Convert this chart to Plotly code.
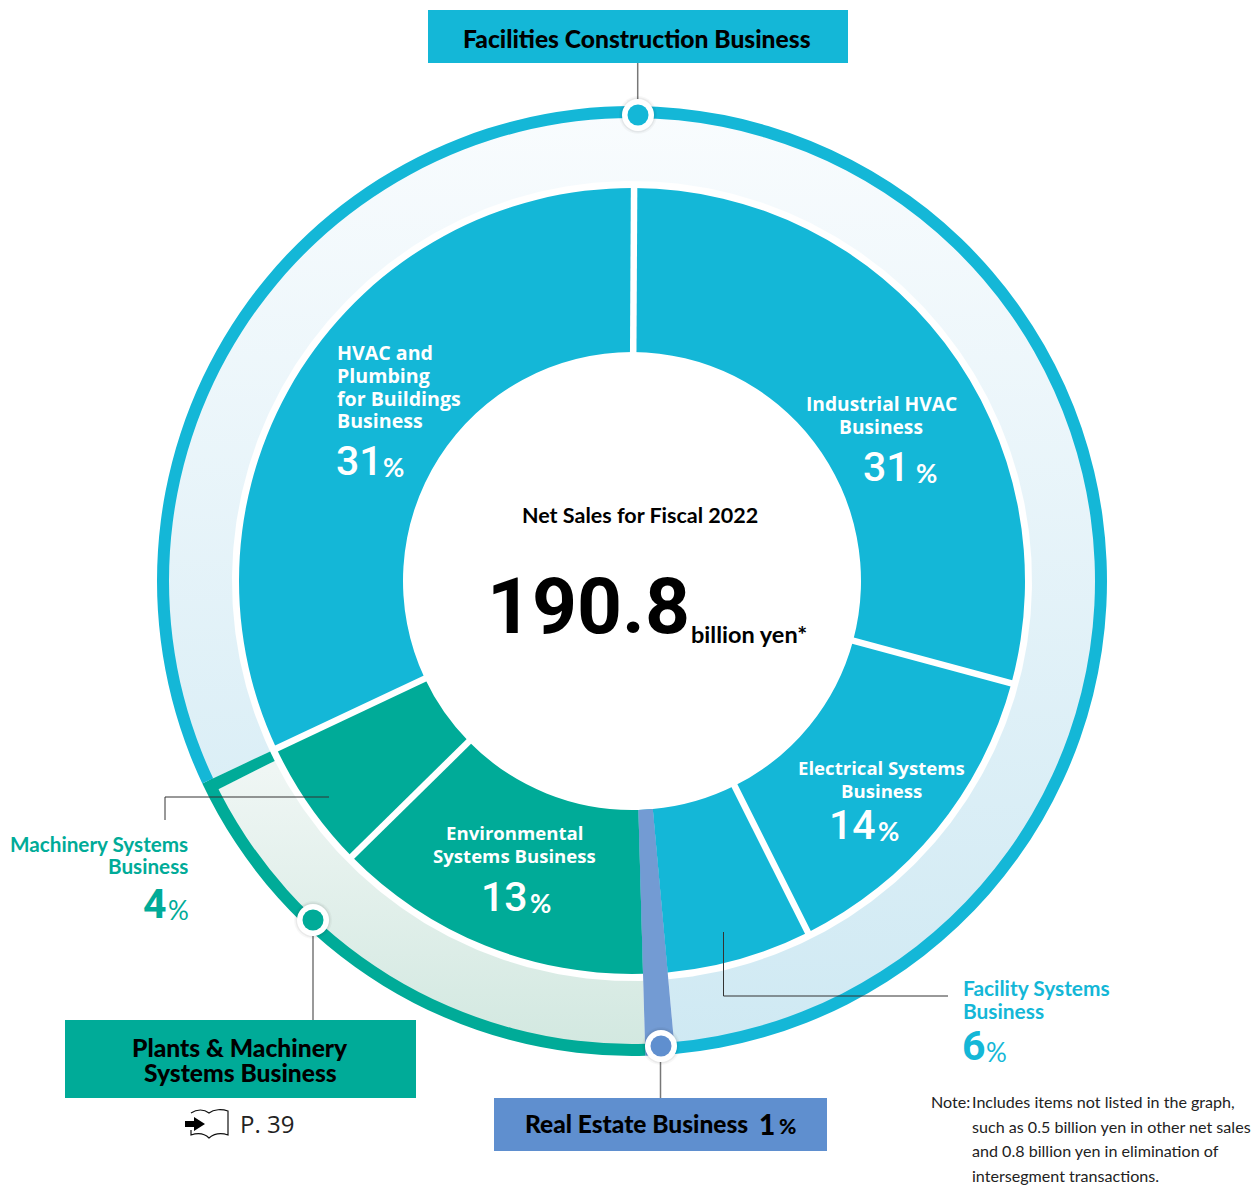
import numpy as np
import plotly.graph_objects as go

W, H = 1253, 1186
CX, CY = 632, 581

# ---- data ----
segments = ["Industrial HVAC", "Electrical Systems", "Facility Systems", "Real Estate",
            "Environmental Systems", "Machinery Systems", "HVAC and Plumbing for Buildings"]
drawn_shares = [29.11, 13.42, 5.94, 1.0, 13.08, 5.36, 32.09]
labelled_pct = ["31", "14", "6", "1", "13", "4", "31"]
start_angle = 0.3

BLUE, GREEN, STRIP, MARK = "#14b7d7", "#00ab98", "#739bd3", "#5f8fcf"
SANS = "Lato"
OPEN = "Open Sans"
NUM = "Roboto"

cum = start_angle + np.cumsum([0] + drawn_shares) * 3.6  # boundaries in degrees, clockwise from top
seg_colors = [BLUE, BLUE, BLUE, BLUE, GREEN, GREEN, BLUE]


def polar(r, deg):
    a = np.radians(deg)
    return CX + r * np.sin(a), CY - r * np.cos(a)


def sector(r0, r1, a0, a1):
    t = np.linspace(a0, a1, max(int(abs(a1 - a0) * 2), 3))
    xo, yo = polar(r1, t)
    xi, yi = polar(r0, t[::-1])
    return np.r_[xo, xi, xo[0]], np.r_[yo, yi, yo[0]]


def domain(r):
    return dict(x=[(CX - r) / W, (CX + r) / W], y=[1 - (CY + r) / H, 1 - (CY - r) / H])


fig = go.Figure()

# gradient bands of the outer ring
xs, ys = sector(400, 468, cum[6], cum[3] + 360)
fig.add_trace(go.Scatter(x=xs, y=ys, mode="lines", line=dict(width=0), fill="toself", hoverinfo="skip",
                         fillgradient=dict(type="vertical", start=110, stop=1050,
                                           colorscale=[[0, "#f9fcfe"], [1, "#cfe9f3"]])))
xs, ys = sector(400, 468, cum[4], cum[6] - 1.5)
fig.add_trace(go.Scatter(x=xs, y=ys, mode="lines", line=dict(width=0), fill="toself", hoverinfo="skip",
                         fillgradient=dict(type="vertical", start=770, stop=1050,
                                           colorscale=[[0, "#eff6f4"], [1, "#d2e8e0"]])))
xs, ys = sector(400, 468, cum[6] - 1.5, cum[6])
fig.add_trace(go.Scatter(x=xs, y=ys, mode="lines", line=dict(width=0), fill="toself", fillcolor=GREEN,
                         hoverinfo="skip"))

# outer coloured rim, grouped by business
rim_values = [sum(drawn_shares[:3]), drawn_shares[3], sum(drawn_shares[4:6]), drawn_shares[6]]
fig.add_trace(go.Pie(values=rim_values, sort=False, direction="clockwise", rotation=start_angle,
                     hole=463 / 475, domain=domain(475), textinfo="none", hoverinfo="skip", showlegend=False,
                     marker=dict(colors=[BLUE, MARK, GREEN, BLUE], line=dict(width=0))))

# main donut
fig.add_trace(go.Pie(labels=segments, values=drawn_shares, sort=False, direction="clockwise",
                     rotation=start_angle, hole=229 / 393, domain=domain(393), textinfo="none",
                     hoverinfo="skip", showlegend=False,
                     marker=dict(colors=seg_colors, line=dict(width=0))))

# real-estate wedge running through donut and ring
fig.add_trace(go.Pie(values=[sum(drawn_shares[:3]), drawn_shares[3], sum(drawn_shares[4:])], sort=False,
                     direction="clockwise", rotation=start_angle, hole=229 / 470, domain=domain(470),
                     textinfo="none", hoverinfo="skip", showlegend=False,
                     marker=dict(colors=["rgba(0,0,0,0)", STRIP, "rgba(0,0,0,0)"], line=dict(width=0))))

shapes = []


def line(pts, color="#333333", width=1):
    p = "M" + " L".join(f"{x:.1f},{y:.1f}" for x, y in pts)
    shapes.append(dict(type="path", path=p, line=dict(color=color, width=width), layer="above",
                       fillcolor="rgba(0,0,0,0)"))


# white separators between the slices
for a in [cum[0], cum[1], cum[2], cum[5], cum[6]]:
    x0, y0 = polar(225, a)
    x1, y1 = polar(396, a)
    line([(x0, y0), (x1, y1)], "white", 6.5)

# boxes
for (x0, y0, x1, y1, c) in [(428, 10, 848, 63, BLUE), (65, 1020, 416, 1098, GREEN), (494, 1098, 827, 1151, MARK)]:
    shapes.append(dict(type="rect", x0=x0, y0=y0, x1=x1, y1=y1, fillcolor=c, line=dict(width=0), layer="above"))

# leaders
line([(165, 820), (165, 797), (329, 797)], "#333333", 1)
line([(723.5, 932), (723.5, 996), (948, 996)], "#333333", 1)
line([(637.7, 63), (637.7, 100)], "#777777", 1.5)
line([(313, 936), (313, 1020)], "#777777", 1.5)
line([(660.5, 1062), (660.5, 1098)], "#777777", 1.5)

# node markers
for (x, y, c) in [(638, 115, BLUE), (313, 920, GREEN), (661, 1046, MARK)]:
    for r, fc, op in [(19, "#000000", 0.03), (17.5, "#000000", 0.05), (16, "white", 1), (10.5, c, 1)]:
        shapes.append(dict(type="circle", x0=x - r, x1=x + r, y0=y - r, y1=y + r, fillcolor=fc, opacity=op,
                           line=dict(width=0), layer="above"))

# book icon with arrow
book = ("M191,1113 C197,1109 204,1109 209,1113 C214,1109 222,1109 228,1111 L228,1135 "
        "C222,1133 215,1133 209,1138 C204,1133 197,1133 191,1135 L191,1130")
shapes.append(dict(type="path", path=book, line=dict(color="#111111", width=1.2), fillcolor="white", layer="above"))
shapes.append(dict(type="path", path="M185,1121 L194,1121 L194,1117 L205,1124 L194,1131 L194,1127 L185,1127 Z",
                   fillcolor="black", line=dict(width=0), layer="above"))

anns = []


def text(t, x, y, size, color="black", anchor="center", bold=True, family=SANS, weight=None):
    anns.append(dict(text=t, x=x, y=y, xref="x", yref="y", showarrow=False, xanchor=anchor, yanchor="middle",
                     borderpad=0, align=anchor,
                     font=dict(family=family, size=size, color=color, weight=weight or (700 if bold else 400))))


# box titles
text("Facilities Construction Business", 637, 38.5, 24.6, weight=900)
text("Plants & Machinery", 240, 1047.5, 24.6, weight=900)
text("Systems Business", 240, 1072.5, 24.6, weight=900)
text("Real Estate Business", 523.5, 1123.5, 24.5, anchor="left", weight=900)
text(labelled_pct[3], 767, 1123.5, 28, weight=900)
text("%", 797, 1125.5, 21, anchor="right", weight=900)
text("P. 39", 239, 1123, 24, color="#222222", anchor="left", bold=False, family=OPEN)

# centre
text("Net Sales for Fiscal 2022", 640, 515, 21.5)
text("190.8", 486, 606, 78.5, family=NUM, anchor="left")
text("billion yen*", 690, 634, 23.5, anchor="left")

W_ = "white"
for t, y in zip(["HVAC and", "Plumbing", "for Buildings", "Business"], [352, 375, 398, 420]):
    text(t, 335.5, y, 19.6, W_, anchor="left", family=OPEN)
text(labelled_pct[6], 335, 461, 41, W_, anchor="left", family=NUM, weight=500)
text("%", 382, 467, 26, W_, anchor="left")

text("Industrial HVAC", 881, 403, 19.2, W_, family=OPEN)
text("Business", 881, 426, 19.2, W_, family=OPEN)
text(labelled_pct[0], 862, 467, 41, W_, anchor="left", family=NUM, weight=500)
text("%", 915, 473, 26, W_, anchor="left")

text("Electrical Systems", 881, 767, 18.6, W_, family=OPEN)
text("Business", 881, 790, 18.6, W_, family=OPEN)
text(labelled_pct[1], 828, 825, 41, W_, anchor="left", family=NUM, weight=500)
text("%", 877, 831, 26, W_, anchor="left")

text("Environmental", 514.5, 832, 18.6, W_, family=OPEN)
text("Systems Business", 514.5, 855, 18.6, W_, family=OPEN)
text(labelled_pct[4], 480, 897, 41, W_, anchor="left", family=NUM, weight=500)
text("%", 529, 903, 26, W_, anchor="left")

text("Machinery Systems", 189, 844, 20.7, GREEN, anchor="right")
text("Business", 189, 866, 20.7, GREEN, anchor="right")
text(labelled_pct[5], 168, 904, 41, GREEN, anchor="right", family=NUM)
text("%", 190, 910, 26, GREEN, anchor="right", bold=False)

text("Facility Systems", 962, 987, 20.9, BLUE, anchor="left")
text("Business", 962, 1010, 20.9, BLUE, anchor="left")
text(labelled_pct[2], 961, 1046, 41, BLUE, anchor="left", family=NUM)
text("%", 985, 1052, 26, BLUE, anchor="left", bold=False)

# note
text("Note:", 929.5, 1101, 16.1, "#222222", anchor="left", bold=False)
note_lines = ["Includes items not listed in the graph,", "such as 0.5 billion yen in other net sales",
              "and 0.8 billion yen in elimination of", "intersegment transactions."]
for t, y in zip(note_lines, [1101, 1126, 1150, 1175]):
    text(t, 970.5, y, 16.1, "#222222", anchor="left", bold=False)

fig.update_layout(
    width=W, height=H, margin=dict(l=0, r=0, t=0, b=0), paper_bgcolor="white", plot_bgcolor="white",
    showlegend=False, shapes=shapes, annotations=anns,
    xaxis=dict(range=[0, W], visible=False, fixedrange=True),
    yaxis=dict(range=[H, 0], visible=False, fixedrange=True),
)
fig.write_html("out.html", config=dict(displayModeBar=False),
               post_script="document.body.style.margin='0';document.documentElement.style.overflow='hidden';")
